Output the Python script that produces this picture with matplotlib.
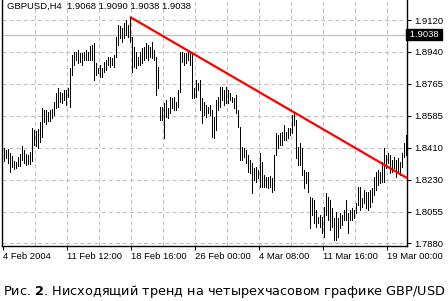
import numpy as np
import matplotlib.pyplot as plt

# 4H GBPUSD bars, left to right (high / low)
highs = [1.8410, 1.8399, 1.8404, 1.8382, 1.8365, 1.8337, 1.8332, 1.8360, 1.8376, 1.8421,
         1.8399, 1.8376, 1.8371, 1.8387, 1.8521, 1.8510, 1.8504, 1.8515, 1.8554, 1.8632,
         1.8621, 1.8621, 1.8609, 1.8621, 1.8626, 1.8665, 1.8715, 1.8743, 1.8720, 1.8715,
         1.8732, 1.8732, 1.8743, 1.8854, 1.8926, 1.8942, 1.8942, 1.8954, 1.8937, 1.8937,
         1.8942, 1.8954, 1.8942, 1.8976, 1.8981, 1.8992, 1.8881, 1.8854, 1.8870, 1.8854,
         1.8887, 1.8898, 1.8915, 1.8915, 1.8909, 1.8926, 1.9026, 1.9092, 1.9087, 1.9076,
         1.9103, 1.9120, 1.9092, 1.9137, 1.9026, 1.8970, 1.8942, 1.8915, 1.8942, 1.8965,
         1.8970, 1.8992, 1.8981, 1.8970, 1.8998, 1.8954, 1.8915, 1.8859, 1.8637, 1.8637,
         1.8659, 1.8676, 1.8632, 1.8693, 1.8687, 1.8693, 1.8665, 1.8732, 1.8942, 1.8942,
         1.8937, 1.8937, 1.8942, 1.8937, 1.8942, 1.8743, 1.8787, 1.8770, 1.8787, 1.8687,
         1.8665, 1.8648, 1.8637, 1.8648, 1.8621, 1.8582, 1.8676, 1.8693, 1.8748, 1.8748,
         1.8732, 1.8748, 1.8732, 1.8715, 1.8693, 1.8687, 1.8704, 1.8621, 1.8526, 1.8415,
         1.8410, 1.8399, 1.8371, 1.8343, 1.8326, 1.8299, 1.8304, 1.8288, 1.8382, 1.8332,
         1.8260, 1.8249, 1.8249, 1.8254, 1.8243, 1.8371, 1.8493, 1.8482, 1.8493, 1.8498,
         1.8537, 1.8498, 1.8521, 1.8521, 1.8593, 1.8604, 1.8565, 1.8415, 1.8437, 1.8410,
         1.8288, 1.8276, 1.8276, 1.8138, 1.8132, 1.8121, 1.8066, 1.8027, 1.8038, 1.8027,
         1.8082, 1.8160, 1.8138, 1.8121, 1.8077, 1.8021, 1.8054, 1.8021, 1.8049, 1.8038,
         1.8066, 1.8121, 1.8049, 1.8066, 1.8077, 1.8066, 1.8104, 1.8193, 1.8193, 1.8132,
         1.8177, 1.8165, 1.8165, 1.8177, 1.8188, 1.8249, 1.8276, 1.8288, 1.8276, 1.8332,
         1.8410, 1.8371, 1.8382, 1.8371, 1.8343, 1.8360, 1.8343, 1.8354, 1.8332, 1.8382,
         1.8437, 1.8482]
lows = [1.8337, 1.8354, 1.8326, 1.8276, 1.8304, 1.8293, 1.8299, 1.8310, 1.8310, 1.8343,
        1.8326, 1.8315, 1.8321, 1.8321, 1.8337, 1.8426, 1.8421, 1.8410, 1.8443, 1.8471,
        1.8554, 1.8543, 1.8559, 1.8559, 1.8576, 1.8593, 1.8632, 1.8637, 1.8665, 1.8659,
        1.8676, 1.8648, 1.8693, 1.8637, 1.8815, 1.8870, 1.8898, 1.8881, 1.8887, 1.8870,
        1.8898, 1.8898, 1.8898, 1.8898, 1.8898, 1.8787, 1.8815, 1.8826, 1.8804, 1.8804,
        1.8831, 1.8843, 1.8870, 1.8859, 1.8870, 1.8859, 1.8915, 1.8981, 1.9020, 1.8998,
        1.9020, 1.9037, 1.9026, 1.8998, 1.8831, 1.8859, 1.8854, 1.8870, 1.8870, 1.8881,
        1.8898, 1.8909, 1.8898, 1.8915, 1.8909, 1.8898, 1.8704, 1.8743, 1.8565, 1.8565,
        1.8465, 1.8582, 1.8576, 1.8604, 1.8632, 1.8621, 1.8621, 1.8637, 1.8720, 1.8887,
        1.8870, 1.8881, 1.8898, 1.8870, 1.8687, 1.8687, 1.8693, 1.8732, 1.8621, 1.8548,
        1.8593, 1.8582, 1.8604, 1.8593, 1.8471, 1.8465, 1.8510, 1.8621, 1.8637, 1.8676,
        1.8648, 1.8659, 1.8659, 1.8676, 1.8665, 1.8632, 1.8604, 1.8526, 1.8343, 1.8343,
        1.8360, 1.8326, 1.8276, 1.8271, 1.8160, 1.8232, 1.8221, 1.8243, 1.8193, 1.8193,
        1.8193, 1.8193, 1.8188, 1.8193, 1.8165, 1.8177, 1.8371, 1.8410, 1.8426, 1.8426,
        1.8454, 1.8454, 1.8465, 1.8482, 1.8493, 1.8537, 1.8354, 1.8315, 1.8315, 1.8260,
        1.8188, 1.8215, 1.8165, 1.7966, 1.8038, 1.7993, 1.7971, 1.7993, 1.7971, 1.7938,
        1.7916, 1.8038, 1.8010, 1.7955, 1.7971, 1.7899, 1.7899, 1.7916, 1.7966, 1.7982,
        1.8010, 1.8010, 1.7938, 1.8010, 1.8010, 1.8021, 1.8049, 1.8093, 1.8066, 1.8082,
        1.8104, 1.8077, 1.8066, 1.8082, 1.8110, 1.8149, 1.8177, 1.8204, 1.8215, 1.8221,
        1.8221, 1.8299, 1.8326, 1.8271, 1.8276, 1.8299, 1.8249, 1.8276, 1.8260, 1.8304,
        1.8360, 1.8371]

date_labels = ["4 Feb 2004", "11 Feb 12:00", "18 Feb 16:00", "26 Feb 00:00",
               "4 Mar 08:00", "11 Mar 16:00", "19 Mar 00:00"]
price_labels = ["1.7880", "1.8055", "1.8230", "1.8410", "1.8585", "1.8765", "1.8940", "1.9120"]
header = "GBPUSD,H4  1.9068 1.9090 1.9038 1.9038"
bid = 1.9038
trend_x = [63, 201.5]
trend_y = [1.9137, 1.8243]

plt.rcParams['font.family'] = ['Liberation Sans', 'DejaVu Sans']
plt.rcParams['lines.scale_dashes'] = False

fig = plt.figure(figsize=(4.48, 3.01), dpi=100)
ax = fig.add_axes([2 / 448, 55 / 301, 405 / 448, 246 / 301])

n = len(highs)
idx = np.arange(n)

price_ticks = np.linspace(1.7880, 1.9120, len(price_labels))
date_ticks = -0.5 + 32 * np.arange(len(date_labels))

grid_kw = dict(color='#c0c0c0', lw=0.75, ls=(0, (2.9, 2.2)), zorder=0)
for y in price_ticks:
    ax.axhline(y, **grid_kw)
for x in -0.5 + 16 * np.arange(1, 13):
    ax.axvline(x, **grid_kw)

ax.axhline(bid, color='#c0c0c0', lw=0.9, zorder=1)

ax.vlines(idx, lows, highs, color='black', lw=0.72, antialiased=False, zorder=2)
ax.plot(trend_x, trend_y, color='#ff0000', lw=1.6, zorder=3, solid_capstyle='butt')

ax.set_xlim(-1, 201.5)
ax.set_ylim(1.78657, 1.9231)

ax.spines['top'].set_visible(False)
for s in ('left', 'right', 'bottom'):
    ax.spines[s].set_linewidth(1.0)

ax.yaxis.tick_right()
ax.set_yticks(price_ticks)
ax.set_yticklabels(price_labels)
ax.set_xticks(date_ticks)
ax.set_xticklabels(date_labels, ha='left')
ax.tick_params(axis='y', length=3, width=0.8, pad=2, labelsize=6.8)
ax.tick_params(axis='x', length=3, width=0.8, pad=1.5, labelsize=6.8)

ax.text(1.0, bid, " 1.9038 ", transform=ax.get_yaxis_transform(),
        ha='left', va='center', fontsize=6.8, color='white',
        bbox=dict(boxstyle='square,pad=0.12', fc='black', ec='black'))

ax.text(0.012, 0.975, header, transform=ax.transAxes, ha='left', va='center',
        fontsize=6.8, color='black')

fig.text(3 / 448, 1 - 292 / 301, "Рис. $\\mathbf{2}$. Нисходящий тренд на четырехчасовом графике GBP/USD",
         ha='left', va='center', fontsize=9.3, family='DejaVu Sans')

fig.savefig("out.png", dpi=100)
